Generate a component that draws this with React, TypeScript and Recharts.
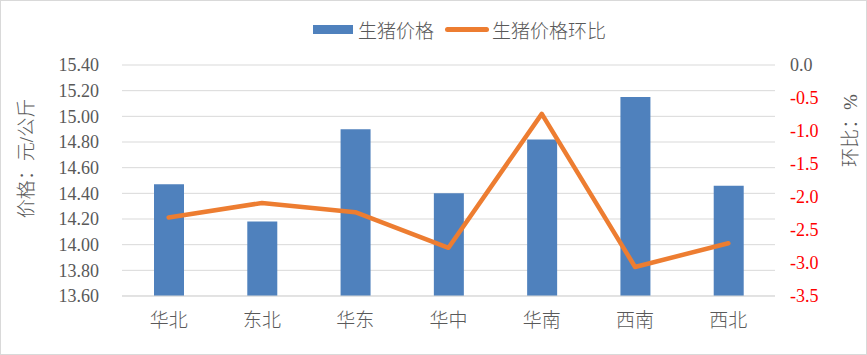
import React from 'react';
import { ComposedChart, Bar, Line, XAxis, YAxis, CartesianGrid } from 'recharts';

const regions = ['华北', '东北', '华东', '华中', '华南', '西南', '西北'];
const prices = [14.47, 14.18, 14.9, 14.4, 14.82, 15.15, 14.46];
const momChange = [-2.31, -2.09, -2.23, -2.77, -0.74, -3.06, -2.7];
const leftTicks = [13.6, 13.8, 14.0, 14.2, 14.4, 14.6, 14.8, 15.0, 15.2, 15.4];
const rightTicks = [-3.5, -3.0, -2.5, -2.0, -1.5, -1.0, -0.5, 0];
const seriesNames = ['生猪价格', '生猪价格环比'];

const data = regions.map((r, i) => ({ region: r, price: prices[i], mom: momChange[i] }));

const FONT = '"Liberation Serif", "Noto Sans CJK SC", serif';
const TEXT = '#595959';
const BLUE = '#4F81BD';
const ORANGE = '#ED7D31';

const RightTick = (props: any) => {
  const { x, y, payload } = props;
  const v = payload.value as number;
  return (
    <text
      x={x}
      y={y}
      dy="0.355em"
      textAnchor="start"
      fill={v < 0 ? '#FF0000' : TEXT}
      fontSize={18}
      fontFamily={FONT}
    >
      {v.toFixed(1)}
    </text>
  );
};

export default function App() {
  return (
    <div style={{ position: 'absolute', left: 0, top: 0, width: 867, height: 355, background: '#fff' }}>
      <ComposedChart
        width={867}
        height={355}
        data={data}
        margin={{ top: 65, right: 0, bottom: 29, left: 0 }}
      >
        <CartesianGrid vertical={false} stroke="#D9D9D9" yAxisId="left" />
        <XAxis
          dataKey="region"
          height={30}
          tickLine={false}
          axisLine={{ stroke: '#D9D9D9' }}
          tickMargin={12}
          tick={{ fill: TEXT, fontSize: 19, fontFamily: FONT, fontWeight: 300 }}
        />
        <YAxis
          yAxisId="left"
          orientation="left"
          width={122}
          domain={[13.6, 15.4]}
          ticks={leftTicks}
          interval={0}
          axisLine={false}
          tickLine={false}
          tickMargin={17}
          tickFormatter={(v: number) => v.toFixed(2)}
          tick={{ fill: TEXT, fontSize: 18, fontFamily: FONT }}
          label={{
            value: '价格：元/公斤',
            angle: -90,
            position: 'center',
            dx: -35,
            dy: -22,
            fill: TEXT,
            fontSize: 19,
            fontFamily: FONT,
            fontWeight: 300,
          }}
        />
        <YAxis
          yAxisId="right"
          orientation="right"
          width={92}
          domain={[-3.5, 0]}
          ticks={rightTicks}
          interval={0}
          axisLine={false}
          tickLine={false}
          tickMargin={9}
          tick={<RightTick />}
          label={{
            value: '环比：%',
            angle: -90,
            position: 'center',
            dx: 29,
            dy: -50,
            fill: TEXT,
            fontSize: 19,
            fontFamily: FONT,
            fontWeight: 300,
          }}
        />
        <Bar
          yAxisId="left"
          dataKey="price"
          name={seriesNames[0]}
          fill={BLUE}
          barSize={30}
          isAnimationActive={false}
        />
        <Line
          yAxisId="right"
          dataKey="mom"
          name={seriesNames[1]}
          type="linear"
          stroke={ORANGE}
          strokeWidth={4.5}
          strokeLinejoin="round"
          strokeLinecap="round"
          dot={false}
          activeDot={false}
          isAnimationActive={false}
        />
      </ComposedChart>
      <div
        style={{
          position: 'absolute',
          left: 313,
          top: 19,
          height: 20,
          display: 'flex',
          alignItems: 'center',
          fontFamily: FONT,
          fontSize: 19,
          fontWeight: 300,
          color: TEXT,
          whiteSpace: 'nowrap',
        }}
      >
        <span style={{ display: 'inline-block', width: 40, height: 9, background: BLUE, marginRight: 5 }} />
        <span>{seriesNames[0]}</span>
        <span
          style={{
            display: 'inline-block',
            width: 44,
            height: 5,
            borderRadius: 3,
            background: ORANGE,
            marginLeft: 11,
            marginRight: 3,
          }}
        />
        <span>{seriesNames[1]}</span>
      </div>
      <div
        style={{
          position: 'absolute',
          left: 0,
          top: 0,
          width: 867,
          height: 355,
          boxSizing: 'border-box',
          border: '1px solid #D9D9D9',
          pointerEvents: 'none',
        }}
      />
    </div>
  );
}
